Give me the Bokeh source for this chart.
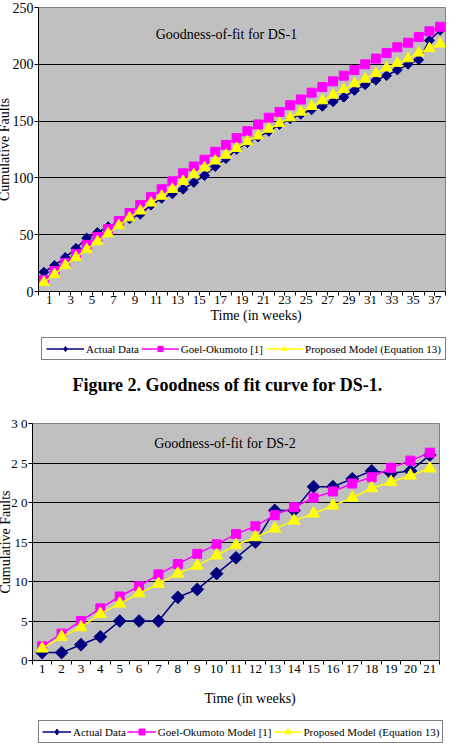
import math
from bokeh.plotting import figure
from bokeh.models import Range1d, FixedTicker, Label, Legend, LegendItem, Title
from bokeh.layouts import column
from bokeh.embed import file_html
from bokeh.resources import INLINE

FONT = "Liberation Serif"

# ---------------- DS-1 data ----------------
ds1_weeks = list(range(1, 39))
ds1_actual = [17, 23, 30, 38, 47, 52, 57, 61, 64, 68, 76, 82, 86, 90, 96, 102, 110, 117, 125,
              131, 136, 141, 147, 152, 156, 160, 163, 167, 171, 177, 182, 186, 190, 195, 200, 204, 221, 230]
ds1_goel = [10, 18, 25, 33, 41, 48, 55, 62, 69, 76, 83, 90, 97, 104, 110, 116, 123, 129, 135,
            141, 147, 153, 158, 164, 169, 175, 180, 185, 190, 195, 200, 205, 210, 215, 219, 224, 229, 233]
ds1_proposed = [8, 15, 23, 30, 37, 44, 51, 58, 65, 71, 78, 84, 90, 97, 103, 109, 115, 120, 126,
                132, 137, 143, 148, 153, 158, 163, 168, 173, 178, 183, 187, 192, 197, 201, 205, 210, 214, 218]
ds1_tick_labels = ["1", "3", "5", "7", "9", "11", "13", "15", "17", "19", "21", "23", "25",
                   "27", "29", "31", "33", "35", "37"]
ds1_yticks = [0, 50, 100, 150, 200, 250]
ds1_ylabels = ["0", "50", "100", "150", "200", "250"]
ds1_names = ["Actual Data", "Goel-Okumoto [1]", "Proposed Model (Equation 13)"]

# ---------------- DS-2 data ----------------
ds2_weeks = list(range(1, 22))
ds2_actual = [1, 1, 2, 3, 5, 5, 5, 8, 9, 11, 13, 15, 19, 19, 22, 22, 23, 24, 23.7, 24, 26]
ds2_goel = [1.8, 3.4, 5.0, 6.6, 8.1, 9.4, 10.9, 12.2, 13.5, 14.7, 16.0, 17.0, 18.4, 19.4,
            20.6, 21.4, 22.4, 23.2, 24.4, 25.3, 26.3]
ds2_proposed = [1.5, 3.0, 4.2, 5.9, 7.2, 8.5, 9.7, 11.0, 12.0, 13.3, 14.6, 15.6, 16.7, 17.7,
                18.6, 19.6, 20.6, 21.8, 22.6, 23.4, 24.3]
ds2_tick_labels = [str(w) for w in ds2_weeks]
ds2_yticks = [0, 5, 10, 15, 20, 25, 30]
ds2_ylabels = ["0", "5", "10", "15", "2 0", "2 5", "3 0"]
ds2_names = ["Actual Data", "Goel-Okumoto Model [1]", "Proposed Model (Equation 13)"]

NAVY = "#000080"
MAGENTA = "#FF00FF"
YELLOW = "#FFFF00"
COLORS = [NAVY, MAGENTA, YELLOW]

# the column aligns every child's left/right borders, so all use the same borders
# and each canvas is slid left (negative margin) to put its frame where it belongs
BORDER_L = 48
BORDER_R = 7


def make_chart(weeks, series, tick_pos, tick_labels, yticks, ylabels, ymax,
               height, shift, width, top, bottom, sizes, ytick_font,
               ylabel_standoff, title_text, title_xy, xtitle_offset, xtitle_standoff):
    n = len(weeks)
    p = figure(width=width, height=height, title=None,
               x_range=Range1d(0.5, n + 0.5), y_range=Range1d(0, ymax),
               output_backend="svg", toolbar_location=None,
               min_border_left=BORDER_L, min_border_right=BORDER_R,
               min_border_top=top, min_border_bottom=bottom)
    p.margin = (0, 0, 0, -shift)
    p.background_fill_color = "#C0C0C0"
    p.border_fill_color = "white"
    p.outline_line_color = "#808080"
    p.outline_line_width = 1
    p.xgrid.visible = False
    p.ygrid.ticker = FixedTicker(ticks=yticks[1:-1])
    p.ygrid.grid_line_color = "black"
    p.ygrid.grid_line_width = 1

    # y axis
    p.yaxis.ticker = FixedTicker(ticks=yticks)
    p.yaxis.major_label_overrides = {t: l for t, l in zip(yticks, ylabels)}
    p.yaxis.axis_line_color = "black"
    p.yaxis.major_tick_out = 4
    p.yaxis.major_tick_in = 0
    p.yaxis.major_tick_line_color = "black"
    p.yaxis.minor_tick_line_color = None
    p.yaxis.major_label_standoff = 1
    p.yaxis.major_label_text_font = FONT
    p.yaxis.major_label_text_font_size = ytick_font
    p.yaxis.major_label_text_color = "black"
    p.yaxis.axis_label = "Cumulative Faults"
    p.yaxis.axis_label_text_font = FONT
    p.yaxis.axis_label_text_font_size = "14px"
    p.yaxis.axis_label_text_font_style = "normal"
    p.yaxis.axis_label_text_color = "black"
    p.yaxis.axis_label_standoff = ylabel_standoff

    # x axis
    boundaries = [w - 0.5 for w in weeks] + [weeks[-1] + 0.5]
    p.xaxis.ticker = FixedTicker(ticks=tick_pos, minor_ticks=boundaries)
    p.xaxis.major_label_overrides = {t: l for t, l in zip(tick_pos, tick_labels)}
    p.xaxis.axis_line_color = "black"
    p.xaxis.axis_line_width = 1
    p.xaxis.major_tick_line_color = None
    p.xaxis.major_tick_out = 4
    p.xaxis.major_tick_in = 0
    p.xaxis.minor_tick_line_color = "black"
    p.xaxis.minor_tick_out = 4
    p.xaxis.minor_tick_in = 0
    p.xaxis.major_label_standoff = 0
    p.xaxis.major_label_text_font = FONT
    p.xaxis.major_label_text_font_size = "13px"
    p.xaxis.major_label_text_color = "black"

    markers = ["square", "square", "triangle"]
    angles = [math.pi / 4, 0, 0]
    for ys, c, m, a, s in zip(series, COLORS, markers, angles, sizes):
        p.line(weeks, ys, line_color=c, line_width=1.5)
        p.scatter(weeks, ys, marker=m, size=s, angle=a, fill_color=c, line_color=c)

    # chart title inside the plot area
    p.add_layout(Label(x=title_xy[0], y=title_xy[1], x_units="screen", y_units="screen",
                       text=title_text, text_font=FONT, text_font_size="14px",
                       text_align="center", text_baseline="middle", text_color="black"))

    # x axis title
    p.add_layout(Title(text="Time (in weeks)", align="left", offset=xtitle_offset,
                       vertical_align="middle", standoff=xtitle_standoff,
                       text_font=FONT, text_font_size="14px", text_font_style="normal",
                       text_color="black"), "below")
    return p


def make_legend_strip(height, shift, weeks, series, names, loc, cfg):
    # legend swatches come from the series renderers; the series lie outside this strip's ranges
    q = figure(width=462 + shift, height=height, title=None,
               min_border_left=BORDER_L, min_border_right=BORDER_R,
               min_border_top=0, min_border_bottom=0,
               x_range=Range1d(-3, -2), y_range=Range1d(-3, -2),
               x_axis_location=None, y_axis_location=None,
               output_backend="svg", toolbar_location=None)
    q.margin = (0, 0, 0, -shift)
    q.outline_line_color = None
    q.background_fill_color = "white"
    q.border_fill_color = "white"
    q.grid.visible = False
    markers = ["diamond", "square", "triangle"]
    items = []
    for ys, c, m, name in zip(series, COLORS, markers, names):
        rl = q.line(weeks, ys, line_color=c, line_width=1.5)
        rm = q.scatter(weeks, ys, marker=m, size=5, fill_color=c, line_color=c)
        items.append(LegendItem(label=name, renderers=[rl, rm]))
    glyph_w, pad, spacing, gh = cfg
    legend = Legend(items=items, location=loc, orientation="horizontal",
                    glyph_width=glyph_w, glyph_height=gh, label_height=gh,
                    label_standoff=2, spacing=spacing, padding=pad, margin=0,
                    label_text_font=FONT, label_text_font_size="11px",
                    label_text_color="black",
                    border_line_color="black", border_line_width=1,
                    background_fill_color="white", background_fill_alpha=1)
    q.add_layout(legend)
    return q


ds1_tick_pos = [int(l) + 0.5 for l in ds1_tick_labels]
p1 = make_chart(ds1_weeks, [ds1_actual, ds1_goel, ds1_proposed],
                ds1_tick_pos, ds1_tick_labels, ds1_yticks, ds1_ylabels, 250,
                333, 10, 472, 7, 42, (7, 9, 11), "14px", -2,
                "Goodness-of-fit for DS-1", (188, 257), 172, 0)

leg1 = make_legend_strip(67, 9, ds1_weeks, [ds1_actual, ds1_goel, ds1_proposed],
                         ds1_names, (2, 40), (38, 4, 2, 13))
leg1.add_layout(Label(x=188, y=16, x_units="screen", y_units="screen",
                      text="Figure 2. Goodness of fit curve for DS-1.", text_font=FONT,
                      text_font_size="18px", text_font_style="bold",
                      text_align="center", text_baseline="middle", text_color="black"))

ds2_tick_pos = [int(l) for l in ds2_tick_labels]
p2 = make_chart(ds2_weeks, [ds2_actual, ds2_goel, ds2_proposed],
                ds2_tick_pos, ds2_tick_labels, ds2_yticks, ds2_ylabels, 30,
                320, 16, 478, 23, 60, (9, 9, 12), "13px", -5,
                "Goodness-of-fit for DS-2", (192.5, 217), 172, 28)

leg2 = make_legend_strip(28, 12, ds2_weeks, [ds2_actual, ds2_goel, ds2_proposed],
                         ds2_names, (2, 5), (29, 3, 1, 15))

layout = column(p1, leg1, p2, leg2, spacing=0)
open("out.html", "w").write(file_html(layout, INLINE))
